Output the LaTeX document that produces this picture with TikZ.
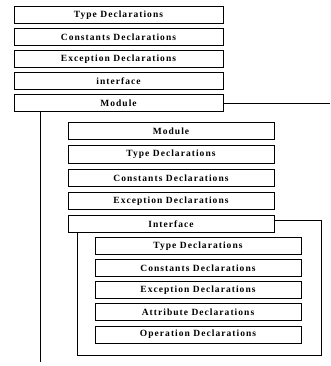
\documentclass[tikz,border=0pt]{standalone}
\usepackage{fontspec}
\setmainfont{Liberation Serif}
\newfontfamily\declfont[LetterSpace=11]{Liberation Serif}
\begin{document}
\begin{tikzpicture}[x=1pt,y=-1pt,
  decl/.style={draw=black,line width=1pt,fill=white,minimum height=17pt,inner sep=0pt,
    font=\declfont\fontsize{9.5}{11}\selectfont\bfseries},
  lvA/.style={decl,minimum width=209pt},
  lvB/.style={decl,minimum width=206pt},
  lvC/.style={decl,minimum width=206pt},
  link/.style={draw=black,line width=0.8pt}]
\useasboundingbox (0,0) rectangle (331,366);
% level 1
\node[lvA] (a1) at (118.5,15.5) {Type Declarations};
\node[lvA] (a2) at (118.5,37.5) {Constants Declarations};
\node[lvA] (a3) at (118.5,59.5) {Exception Declarations};
\node[lvA] (a4) at (118.5,81.5) {interface};
\node[lvA] (a5) at (118.5,103) {Module};
% level 2
\node[lvB] (b1) at (171,131.5) {Module};
\node[lvB] (b2) at (171,154.5) {Type Declarations};
\node[lvB] (b3) at (171,178) {Constants Declarations};
\node[lvB] (b4) at (171,201) {Exception Declarations};
\node[lvB] (b5) at (171,224) {Interface};
% level 3
\node[lvC] (c1) at (198,246) {Type Declarations};
\node[lvC] (c2) at (198,268) {Constants Declarations};
\node[lvC] (c3) at (198,290) {Exception Declarations};
\node[lvC] (c4) at (198,312) {Attribute Declarations};
\node[lvC] (c5) at (198,334.5) {Operation Declarations};
% connectors
\coordinate (mEnd) at (330,103);
\coordinate (mDown) at (40,362);
\draw[link] (a5.east) -- (mEnd);
\draw[link] (a5.south -| mDown) -- (mDown);
\coordinate (iTop) at (321,220);
\coordinate (iCorner) at (321,355);
\coordinate (iLeft) at (77,355);
\draw[link] (b5.east |- iTop) -- (iTop) -- (iCorner) -- (iLeft) -- (b5.south -| iLeft);
\end{tikzpicture}
\end{document}
